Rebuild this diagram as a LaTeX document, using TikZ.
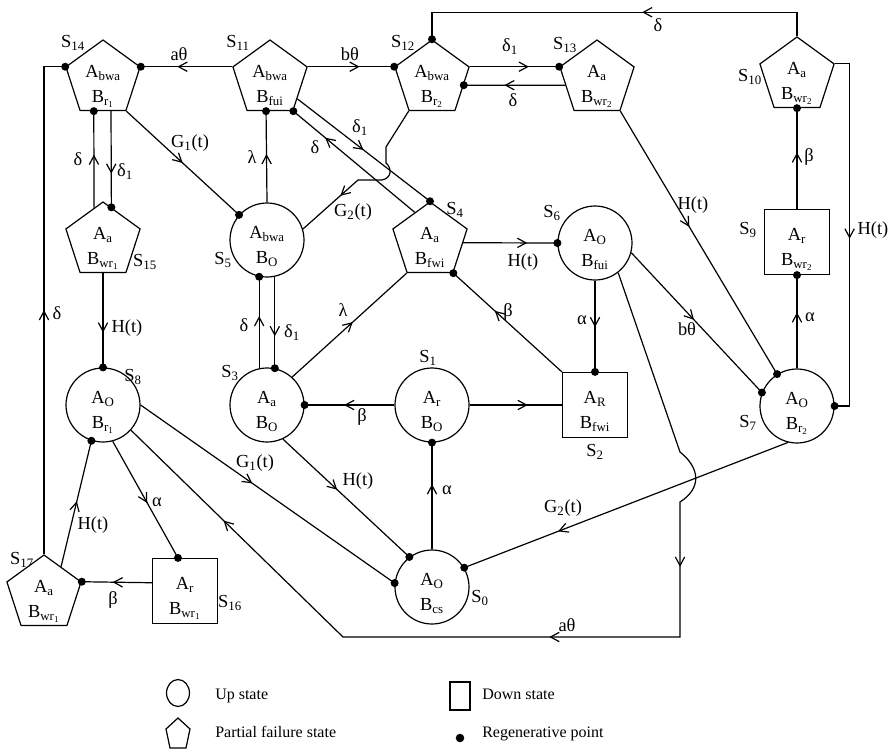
\documentclass[tikz,border=0pt]{standalone}
\usepackage{fontspec}
\setmainfont{Liberation Serif}
\usetikzlibrary{arrows.meta, shapes.geometric, decorations.markings}

% two text lines inside a state
\newcommand{\sttext}[3]{%
  \node[stxt] (#1a) at ([yshift=1pt]#1.center) {#2};
  \node[stxt] (#1b) at ([yshift=-17.5pt]#1.center) {#3};}

\begin{document}
\begin{tikzpicture}[x=0.75pt, y=-0.75pt,
  every node/.style={font=\fontsize{13.8}{16}\selectfont},
  upst/.style={circle, draw, line width=0.9pt, minimum size=55.5pt, inner sep=0pt},
  pfst/.style={regular polygon, regular polygon sides=5, draw, line width=0.9pt, minimum size=58.5pt, inner sep=0pt},
  dnst/.style={rectangle, draw, line width=0.9pt, minimum width=48.75pt, minimum height=48.75pt, inner sep=0pt},
  stxt/.style={inner sep=0pt, anchor=base},
  lab/.style={inner sep=0pt},
  legtxt/.style={inner sep=0pt, anchor=base west, font=\fontsize{12}{14}\selectfont},
  conn/.style={line width=0.9pt},
  midarr/.style={postaction={decorate, decoration={markings,
      mark=at position #1 with {\arrow{Straight Barb[length=6.5pt,width=7pt,line width=0.9pt]}}}}}
]
  \useasboundingbox (0,0) rectangle (892,749);

  % States
  \node[pfst] (s14) at (103,79)  {};
  \node[pfst] (s11) at (270,79)  {};
  \node[pfst] (s12) at (432,79)  {};
  \node[pfst] (s13) at (597,79)  {};
  \node[pfst] (s10) at (797,76)  {};
  \node[dnst] (s9)  at (797,242) {};
  \node[pfst] (s15) at (103,241) {};
  \node[upst] (s5)  at (267,240) {};
  \node[pfst] (s4)  at (430,241) {};
  \node[upst] (s6)  at (595,243) {};
  \node[upst] (s8)  at (103,405) {};
  \node[upst] (s3)  at (267,405) {};
  \node[upst] (s1)  at (432,405) {};
  \node[dnst] (s2)  at (595,405) {};
  \node[upst] (s7)  at (797,406) {};
  \node[upst] (s0)  at (432,587) {};
  \node[pfst] (s17) at (44,594)  {};
  \node[dnst] (s16) at (185,591) {};

  \sttext{s14}{A\textsubscript{bwa}}{B\textsubscript{r\textsubscript{1}}}
  \sttext{s11}{A\textsubscript{bwa}}{B\textsubscript{fui}}
  \sttext{s12}{A\textsubscript{bwa}}{B\textsubscript{r\textsubscript{2}}}
  \sttext{s13}{A\textsubscript{a}}{B\textsubscript{wr\textsubscript{2}}}
  \sttext{s10}{A\textsubscript{a}}{B\textsubscript{wr\textsubscript{2}}}
  \sttext{s9}{A\textsubscript{r}}{B\textsubscript{wr\textsubscript{2}}}
  \sttext{s15}{A\textsubscript{a}}{B\textsubscript{wr\textsubscript{1}}}
  \sttext{s5}{A\textsubscript{bwa}}{B\textsubscript{O}}
  \sttext{s4}{A\textsubscript{a}}{B\textsubscript{fwi}}
  \sttext{s6}{A\textsubscript{O}}{B\textsubscript{fui}}
  \sttext{s8}{A\textsubscript{O}}{B\textsubscript{r\textsubscript{1}}}
  \sttext{s3}{A\textsubscript{a}}{B\textsubscript{O}}
  \sttext{s1}{A\textsubscript{r}}{B\textsubscript{O}}
  \sttext{s2}{A\textsubscript{R}}{B\textsubscript{fwi}}
  \sttext{s7}{A\textsubscript{O}}{B\textsubscript{r\textsubscript{2}}}
  \sttext{s0}{A\textsubscript{O}}{B\textsubscript{cs}}
  \sttext{s17}{A\textsubscript{a}}{B\textsubscript{wr\textsubscript{1}}}
  \sttext{s16}{A\textsubscript{r}}{B\textsubscript{wr\textsubscript{1}}}

  \node[lab] (n14) at (73,43)   {S\textsubscript{14}};
  \node[lab] (n11) at (238,43)  {S\textsubscript{11}};
  \node[lab] (n12) at (403,43)  {S\textsubscript{12}};
  \node[lab] (n13) at (565,45)  {S\textsubscript{13}};
  \node[lab] (n10) at (750,77)  {S\textsubscript{10}};
  \node[lab] (n9)  at (748,230) {S\textsubscript{9}};
  \node[lab] (n15) at (145,262) {S\textsubscript{15}};
  \node[lab] (n5)  at (223,260) {S\textsubscript{5}};
  \node[lab] (n4)  at (455,210) {S\textsubscript{4}};
  \node[lab] (n6)  at (552,213) {S\textsubscript{6}};
  \node[lab] (n8)  at (133,377) {S\textsubscript{8}};
  \node[lab] (n3)  at (230,373) {S\textsubscript{3}};
  \node[lab] (n1)  at (428,358) {S\textsubscript{1}};
  \node[lab] (n2)  at (595,452) {S\textsubscript{2}};
  \node[lab] (n7)  at (748,423) {S\textsubscript{7}};
  \node[lab] (n0)  at (480,598) {S\textsubscript{0}};
  \node[lab] (n17) at (22,560)  {S\textsubscript{17}};
  \node[lab] (n16) at (230,603) {S\textsubscript{16}};

  % Transitions
  \draw[conn, midarr=0.6]  (s11.corner 2) -- (s14.corner 5);
  \draw[conn, midarr=0.6]  (s11.corner 5) -- (s12.corner 2);
  \draw[conn, midarr=0.66] (s12.corner 5) -- (s13.corner 2);
  \draw[conn, midarr=0.6]  (s13.191) -- (s12.349);
  \draw[conn, midarr=0.43] (s10.corner 1) -- ++(0,-24) -| (s12.corner 1);
  \draw[conn, midarr=0.51] (s10.corner 5) -| ([xshift=11.25pt]s7.east) -- (s7.east);
  \draw[conn, midarr=0.56] (s9.north) -- (s10.270);
  \draw[conn, midarr=0.6]  (s7.north) -- (s9.south);
  \draw[conn, midarr=0.44] (s13.corner 4) -- (s7.122);
  \draw[conn, midarr=0.48] (s6.345) -- (s7.159);
  \draw[conn, midarr=0.68] (s4.357) -- (s6.west);
  \draw[conn, midarr=0.51] (s6.south) -- (s2.north);
  \draw[conn, midarr=0.62] (s2.north west) -- (s4.corner 4);
  \draw[conn, midarr=0.63] (s1.east) -- (s2.west);
  \draw[conn, midarr=0.56] (s1.west) -- (s3.east);
  \draw[conn, midarr=0.53] (s3.48) -- (s4.corner 3);
  \draw[conn, midarr=0.61] (s0.north) -- (s1.south);
  \draw[conn, midarr=0.43] (s3.295) -- (s0.127);
  \draw[conn, midarr=0.71] (s7.256) -- (s0.31);
  \draw[conn, midarr=0.44] (s8.east) -- (s0.174);
  \draw[conn, midarr=0.31, midarr=0.507, midarr=0.873] (s6.308) -- (680,452)
    .. controls (700,468) and (702,488) .. (680,502) -- (680,637) -- (343,637) -- (s8.318);
  \draw[conn, midarr=0.53] (s8.285) -- (s16.102);
  \draw[conn, midarr=0.56] (s16.166) -- (s17.corner 5);
  \draw[conn, midarr=0.52] (s17.58) -- (s8.252);
  \draw[conn, midarr=0.48] (s17.corner 1) |- (s14.corner 2);
  \draw[conn, midarr=0.63] (s15.270) -- (s8.north);
  \draw[conn, midarr=0.55] (s15.105) -- (s14.254);
  \draw[conn, midarr=0.65] (s14.284) -- (s15.76);
  \draw[conn, midarr=0.5]  (s14.corner 4) -- (s5.138);
  \draw[conn, midarr=0.53] (s5.north) -- (s11.263);
  \draw[conn, midarr=0.5]  (s11.324) -- (s4.corner 1);
  \draw[conn, midarr=0.74] (s4.118) -- (s11.corner 4);
  \draw[conn, midarr=0.72] (s12.corner 3) -- (386,147) -- (386,163)
    .. controls (392,168) and (392,178) .. (382,180) -- (358,180) -- (s5.17);
  \draw[conn, midarr=0.65] (s5.282) -- (s3.78);
  \draw[conn, midarr=0.57] (s3.102) -- (s5.258);

  % Rates
  \node[lab] (t1)  at (179,54)  {aθ};
  \node[lab] (t2)  at (350,54)  {bθ};
  \node[lab] (t3)  at (510,47)  {δ\textsubscript{1}};
  \node[lab] (t4)  at (513,100) {δ};
  \node[lab] (t5)  at (658,25)  {δ};
  \node[lab] (t6)  at (873,230) {H(t)};
  \node[lab] (t7)  at (809,157) {β};
  \node[lab] (t8)  at (810,317) {α};
  \node[lab] (t9)  at (693,205) {H(t)};
  \node[lab] (t10) at (687,329) {bθ};
  \node[lab] (t11) at (523,262) {H(t)};
  \node[lab] (t12) at (582,320) {α};
  \node[lab] (t13) at (508,312) {β};
  \node[lab] (t14) at (343,310) {λ};
  \node[lab] (t15) at (362,417) {β};
  \node[lab] (t16) at (447,490) {α};
  \node[lab] (t17) at (358,481) {H(t)};
  \node[lab] (t18) at (563,508) {G\textsubscript{2}(t)};
  \node[lab] (t19) at (255,463) {G\textsubscript{1}(t)};
  \node[lab] (t20) at (567,625) {aθ};
  \node[lab] (t21) at (157,502) {α};
  \node[lab] (t22) at (93,525)  {H(t)};
  \node[lab] (t23) at (113,600) {β};
  \node[lab] (t24) at (57,313)  {δ};
  \node[lab] (t25) at (127,328) {H(t)};
  \node[lab] (t26) at (78,159)  {δ};
  \node[lab] (t27) at (125,172) {δ\textsubscript{1}};
  \node[lab] (t28) at (190,143) {G\textsubscript{1}(t)};
  \node[lab] (t29) at (252,157) {λ};
  \node[lab] (t30) at (360,128) {δ\textsubscript{1}};
  \node[lab] (t31) at (315,147) {δ};
  \node[lab] (t32) at (353,212) {G\textsubscript{2}(t)};
  \node[lab] (t33) at (244,325) {δ};
  \node[lab] (t34) at (292,333) {δ\textsubscript{1}};

  % Regenerative points
  \foreach \p in {s14.corner 2, s14.corner 5, s14.254, s11.263, s11.corner 4,
      s12.corner 1, s12.corner 2, s12.349, s13.corner 2, s10.270, s9.south,
      s7.122, s7.159, s7.east, s6.west, s4.corner 1, s4.corner 4, s5.138,
      s5.258, s3.east, s3.78, s1.south, s2.north, s0.127, s0.174, s0.31,
      s8.north, s8.252, s15.76, s17.corner 5, s16.102}
    \fill (\p) circle (3pt);

  % Legend
  \draw[conn] (178,693) ellipse (8.6pt and 10.1pt);
  \draw[conn] (178,718) -- (190,729) -- (186,748) -- (170,748) -- (166,729) -- cycle;
  \draw[conn] (450,682) rectangle (470,710);
  \fill (460,738) circle (3.2pt);
  \node[legtxt] (g1) at (215,699) {Up state};
  \node[legtxt] (g2) at (215,737) {Partial failure state};
  \node[legtxt] (g3) at (482,699) {Down state};
  \node[legtxt] (g4) at (482,737) {Regenerative point};
\end{tikzpicture}
\end{document}
